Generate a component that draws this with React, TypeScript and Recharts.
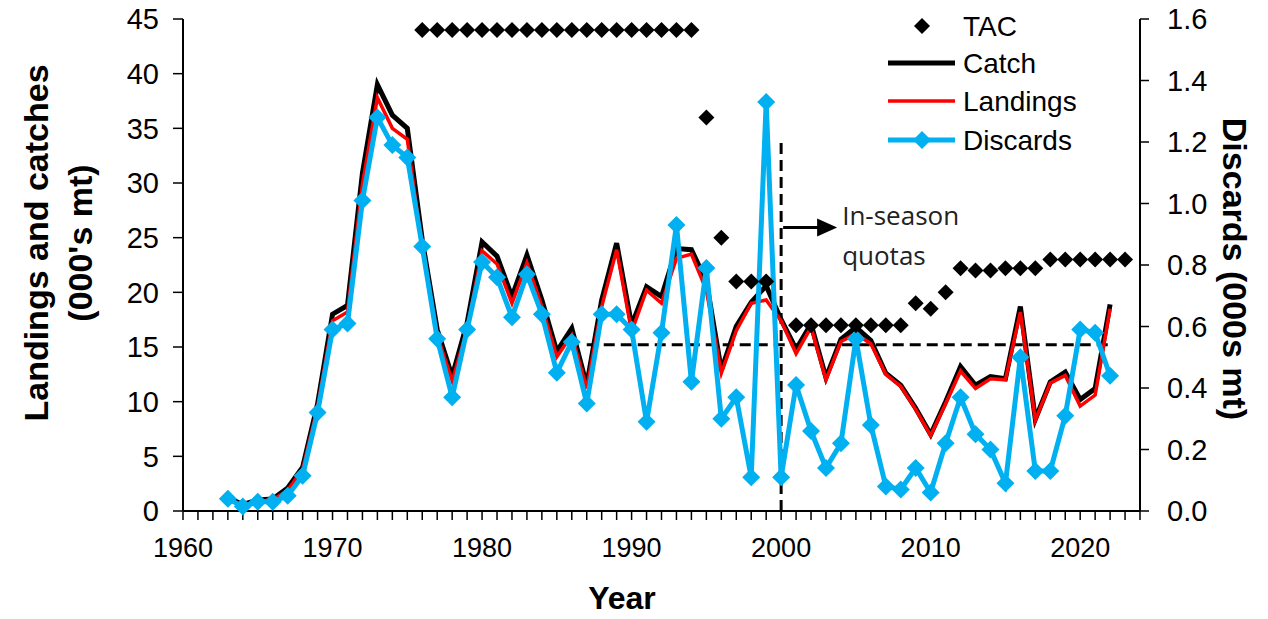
import React from 'react';
import { ComposedChart, Line, XAxis, YAxis, ReferenceLine, Label } from 'recharts';

// years on the x axis (1963-2023)
const years = [
  1963, 1964, 1965, 1966, 1967, 1968, 1969, 1970, 1971, 1972,
  1973, 1974, 1975, 1976, 1977, 1978, 1979, 1980, 1981, 1982,
  1983, 1984, 1985, 1986, 1987, 1988, 1989, 1990, 1991, 1992,
  1993, 1994, 1995, 1996, 1997, 1998, 1999, 2000, 2001, 2002,
  2003, 2004, 2005, 2006, 2007, 2008, 2009, 2010, 2011, 2012,
  2013, 2014, 2015, 2016, 2017, 2018, 2019, 2020, 2021, 2022,
  2023,
];

// catch, 000's mt
const catchK = [
  1.2, 0.6, 1.0, 1.1, 2.1, 4.0, 9.8, 18.0, 18.8, 30.9,
  39.0, 36.2, 35.0, 24.8, 16.6, 12.3, 17.2, 24.6, 23.3, 19.6,
  23.4, 19.3, 14.6, 16.7, 11.5, 19.3, 24.5, 17.0, 20.5, 19.6,
  24.0, 23.9, 21.0, 12.9, 16.9, 19.1, 20.6, 17.5, 14.8, 17.1,
  12.2, 15.7, 16.8, 15.6, 12.6, 11.5, 9.4, 7.0, 10.0, 13.2,
  11.5, 12.3, 12.1, 18.7, 8.4, 11.8, 12.7, 10.2, 11.2, 18.9,
  null,
];

// landings, 000's mt
const landingsK = [
  1.1, 0.5, 0.9, 1.0, 1.9, 3.8, 9.5, 17.4, 18.2, 29.9,
  37.8, 35.0, 34.0, 24.0, 16.1, 11.9, 16.6, 23.8, 22.6, 19.0,
  22.7, 18.7, 14.1, 16.1, 11.2, 18.7, 23.9, 16.4, 20.2, 19.0,
  23.1, 23.5, 20.2, 12.6, 16.5, 19.0, 19.3, 17.4, 14.4, 16.8,
  12.0, 15.5, 16.2, 15.3, 12.5, 11.4, 9.3, 6.9, 9.8, 12.8,
  11.2, 12.1, 12.0, 18.2, 8.3, 11.7, 12.4, 9.6, 10.6, 18.5,
  null,
];

// discards, 000s mt (right axis)
const discardsK = [
  0.04, 0.015, 0.03, 0.03, 0.05, 0.115, 0.32, 0.59, 0.61, 1.01,
  1.28, 1.19, 1.15, 0.86, 0.56, 0.37, 0.59, 0.81, 0.76, 0.63,
  0.77, 0.64, 0.45, 0.55, 0.35, 0.64, 0.64, 0.59, 0.29, 0.58,
  0.93, 0.42, 0.79, 0.30, 0.37, 0.11, 1.33, 0.11, 0.41, 0.26,
  0.14, 0.22, 0.56, 0.28, 0.08, 0.07, 0.14, 0.06, 0.22, 0.37,
  0.25, 0.20, 0.09, 0.50, 0.13, 0.13, 0.31, 0.59, 0.58, 0.44,
  null,
];

// TAC, 000's mt
const tacK = [
  null, null, null, null, null, null, null, null, null, null,
  null, null, null, 44, 44, 44, 44, 44, 44, 44,
  44, 44, 44, 44, 44, 44, 44, 44, 44, 44,
  44, 44, 36, 25, 21, 21, 21, null, 17, 17,
  17, 17, 17, 17, 17, 17, 19, 18.5, 20, 22.2,
  22, 22, 22.2, 22.2, 22.2, 23, 23, 23, 23, 23,
  23,
];

const decadeLabels = [1960, 1970, 1980, 1990, 2000, 2010, 2020];
const xTicks = Array.from({ length: 65 }, (_, i) => 1960 + i);
const leftTicks = [0, 5, 10, 15, 20, 25, 30, 35, 40, 45];
const rightTicks = [0, 0.2, 0.4, 0.6, 0.8, 1.0, 1.2, 1.4, 1.6];

// reference marks
const quotaStartYear = 2000;
const quotaLineTop = 33.7;
const refLevel = 15.2;
const refFrom = 1987;
const refTo = 2022;

const data = years.map((year, i) => ({
  year,
  catch: catchK[i],
  landings: landingsK[i],
  discards: discardsK[i],
  tac: tacK[i],
}));

const BLUE = '#00B0F0';
const FONT = "'Liberation Sans', Arial, sans-serif";

const diamond = (color: string, r: number) => (props: any) => {
  const { cx, cy, index, value } = props;
  if (cx == null || cy == null || value == null) return <g key={`d-${index}`} />;
  return (
    <path
      key={`d-${index}`}
      d={`M${cx},${cy - r}L${cx + r},${cy}L${cx},${cy + r}L${cx - r},${cy}Z`}
      fill={color}
    />
  );
};

const LeftTitle = () => (
  <g>
    <text x={36} y={243} transform="rotate(-90, 36, 243)" textAnchor="middle" dominantBaseline="central"
      fontFamily={FONT} fontWeight="bold" fontSize={34} fill="#000">Landings and catches</text>
    <text x={80} y={243} transform="rotate(-90, 80, 243)" textAnchor="middle" dominantBaseline="central"
      fontFamily={FONT} fontWeight="bold" fontSize={34} fill="#000">(000's mt)</text>
  </g>
);

const RightTitle = () => (
  <text x={1235} y={269} transform="rotate(90, 1235, 269)" textAnchor="middle" dominantBaseline="central"
    fontFamily={FONT} fontWeight="bold" fontSize={34} fill="#000">Discards (000s mt)</text>
);

const XTitle = () => (
  <text x={622} y={598} textAnchor="middle" dominantBaseline="central"
    fontFamily={FONT} fontWeight="bold" fontSize={32} fill="#000">Year</text>
);

const QuotaNote = (props: any) => {
  const vb = props.viewBox || {};
  const x = vb.x ?? 782;
  const top = vb.y ?? 143;
  const ay = top + 85;
  return (
    <g>
      <line x1={x + 2} y1={ay} x2={x + 38} y2={ay} stroke="#000" strokeWidth={3} />
      <path d={`M${x + 36},${ay - 9}L${x + 56},${ay}L${x + 36},${ay + 9}Z`} fill="#000" />
      <text x={x + 61} y={ay - 13} dominantBaseline="central" fontFamily="'Open Sans', sans-serif"
        fontSize={26} fill="#222">In-season</text>
      <text x={x + 61} y={ay + 27} dominantBaseline="central" fontFamily="'Open Sans', sans-serif"
        fontSize={26} fill="#222">quotas</text>
    </g>
  );
};

const LegendOverlay = () => (
  <svg width={1268} height={619} style={{ position: 'absolute', left: 0, top: 0, pointerEvents: 'none' }}>
    <path d="M922,18L930,26L922,34L914,26Z" fill="#000" />
    <text x={963} y={26} dominantBaseline="central" fontFamily={FONT} fontSize={28}>TAC</text>
    <line x1={888} y1={63} x2={955} y2={63} stroke="#000" strokeWidth={5} />
    <text x={963} y={63} dominantBaseline="central" fontFamily={FONT} fontSize={28}>Catch</text>
    <line x1={888} y1={101} x2={955} y2={101} stroke="#FF0000" strokeWidth={3.5} />
    <text x={963} y={101} dominantBaseline="central" fontFamily={FONT} fontSize={28}>Landings</text>
    <line x1={888} y1={140} x2={955} y2={140} stroke={BLUE} strokeWidth={5} />
    <path d="M922,131L931,140L922,149L913,140Z" fill={BLUE} />
    <text x={963} y={140} dominantBaseline="central" fontFamily={FONT} fontSize={28}>Discards</text>
  </svg>
);

export default function App() {
  return (
    <div style={{ position: 'absolute', left: 0, top: 0, width: 1268, height: 619, background: '#fff' }}>
      <ComposedChart width={1268} height={619} data={data} margin={{ top: 19, right: 48, bottom: 0, left: 83 }}>
        <XAxis
          dataKey="year"
          type="number"
          domain={[1960, 2024]}
          ticks={xTicks}
          interval={0}
          tickFormatter={(v: number) => (decadeLabels.includes(v) ? String(v) : '')}
          height={108}
          tickSize={9}
          tickMargin={18}
          axisLine={{ stroke: '#000', strokeWidth: 2 }}
          tickLine={{ stroke: '#000', strokeWidth: 1.5 }}
          tick={{ fill: '#000', fontSize: 27, fontFamily: FONT }}
        >
          <Label content={XTitle} />
        </XAxis>
        <YAxis
          yAxisId="left"
          domain={[0, 45]}
          ticks={leftTicks}
          interval={0}
          width={100}
          tickSize={10}
          tickMargin={14}
          axisLine={{ stroke: '#000', strokeWidth: 2 }}
          tickLine={{ stroke: '#000', strokeWidth: 1.5 }}
          tick={{ fill: '#000', fontSize: 29, fontFamily: FONT }}
        >
          <Label content={LeftTitle} />
        </YAxis>
        <YAxis
          yAxisId="right"
          orientation="right"
          domain={[0, 1.6]}
          ticks={rightTicks}
          interval={0}
          width={80}
          tickSize={9}
          tickMargin={18}
          tickFormatter={(v: number) => v.toFixed(1)}
          axisLine={{ stroke: '#000', strokeWidth: 2 }}
          tickLine={{ stroke: '#000', strokeWidth: 1.5 }}
          tick={{ fill: '#000', fontSize: 29, fontFamily: FONT }}
        >
          <Label content={RightTitle} />
        </YAxis>

        <ReferenceLine
          yAxisId="left"
          segment={[{ x: refFrom, y: refLevel }, { x: refTo, y: refLevel }]}
          stroke="#000"
          strokeWidth={3}
          strokeDasharray="11 6"
        />
        <ReferenceLine
          yAxisId="left"
          segment={[{ x: quotaStartYear, y: 0 }, { x: quotaStartYear, y: quotaLineTop }]}
          stroke="#000"
          strokeWidth={3}
          strokeDasharray="11 6"
          label={<QuotaNote />}
        />

        <Line yAxisId="left" dataKey="catch" stroke="#000" strokeWidth={5} dot={false} activeDot={false}
          type="linear" isAnimationActive={false} />
        <Line yAxisId="left" dataKey="landings" stroke="#FF0000" strokeWidth={3.5} dot={false} activeDot={false}
          type="linear" isAnimationActive={false} />
        <Line yAxisId="right" dataKey="discards" stroke={BLUE} strokeWidth={5} dot={diamond(BLUE, 9)}
          activeDot={false} type="linear" isAnimationActive={false} />
        <Line yAxisId="left" dataKey="tac" stroke="none" strokeWidth={0} dot={diamond('#000', 8)}
          activeDot={false} isAnimationActive={false} />
      </ComposedChart>
      <LegendOverlay />
    </div>
  );
}
